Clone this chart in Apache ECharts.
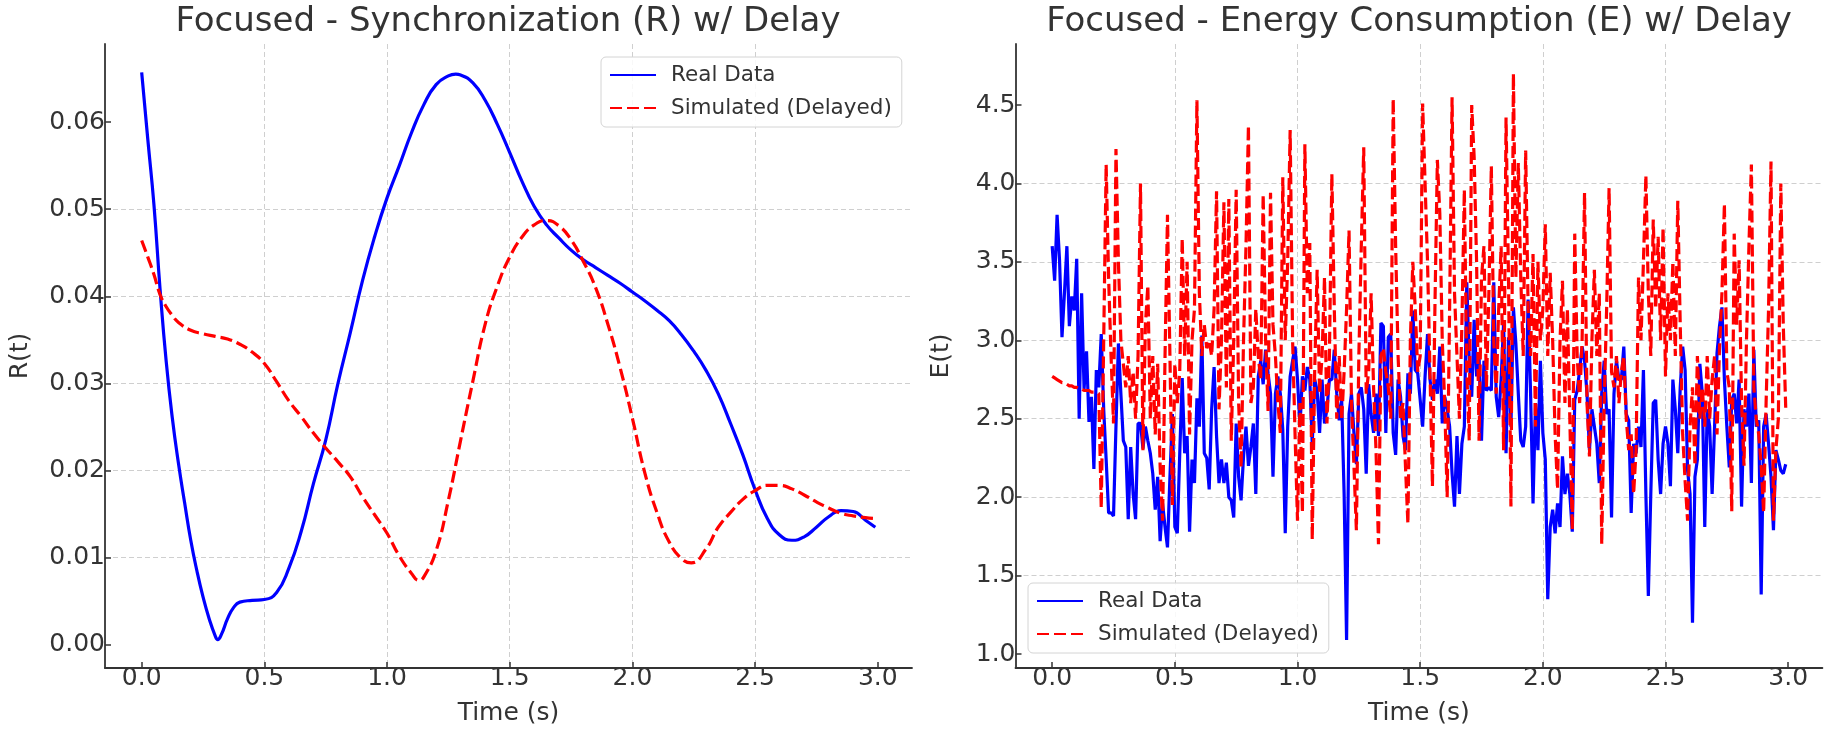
<!DOCTYPE html>
<html>
<head>
<meta charset="utf-8">
<title>Focused - Synchronization and Energy w/ Delay</title>
<script src="https://cdn.jsdelivr.net/npm/echarts@6/dist/echarts.min.js"></script>
<style>
  html, body { margin: 0; padding: 0; background: #fff; }
  #chart { width: 1831px; height: 740px; }
</style>
</head>
<body>
<div id="chart"></div>
<script>
'use strict';

// ---- left panel: synchronization R(t) ----
const syncRealTime = [0, 0.025, 0.05, 0.075, 0.1, 0.125, 0.15, 0.175, 0.2, 0.225, 0.25, 0.275, 0.3, 0.31, 0.325, 0.35, 0.375, 0.4, 0.45, 0.5,
  0.55, 0.6, 0.65, 0.7, 0.75, 0.8, 0.85, 0.9, 0.95, 1.0, 1.05, 1.1, 1.15, 1.2, 1.25, 1.28, 1.3, 1.35, 1.4, 1.45,
  1.5, 1.55, 1.6, 1.65, 1.7, 1.75, 1.8, 1.85, 1.9, 1.95, 2.0, 2.05, 2.1, 2.15, 2.2, 2.25, 2.3, 2.35, 2.4, 2.45,
  2.5, 2.55, 2.6, 2.65, 2.7, 2.75, 2.8, 2.85, 2.9, 2.95, 2.99];
const syncReal = [0.0657, 0.058, 0.0505, 0.0408, 0.0325, 0.026, 0.0208, 0.0163, 0.012, 0.0085, 0.0055, 0.003, 0.001, 0.0006, 0.0012, 0.003, 0.0043, 0.0049, 0.0051, 0.0052,
  0.006, 0.0088, 0.013, 0.0185, 0.0235, 0.03, 0.0358, 0.0418, 0.0469, 0.0513, 0.055, 0.0588, 0.062, 0.0643, 0.0653, 0.0655, 0.0654, 0.0645, 0.0625, 0.0597,
  0.0565, 0.0532, 0.0503, 0.0482, 0.0467, 0.0453, 0.0442, 0.0433, 0.0424, 0.0415, 0.0405, 0.0395, 0.0384, 0.0372, 0.0356, 0.0337, 0.0315, 0.0288, 0.0254, 0.0218,
  0.0178, 0.0145, 0.0126, 0.012, 0.0124, 0.0135, 0.0147, 0.0154, 0.0153, 0.0143, 0.0135];

const syncSimTime = [0, 0.025, 0.05, 0.075, 0.1, 0.125, 0.15, 0.2, 0.25, 0.3, 0.35, 0.4, 0.45, 0.5, 0.55, 0.6, 0.65, 0.7, 0.75, 0.8,
  0.85, 0.9, 0.95, 1.0, 1.05, 1.1, 1.13, 1.15, 1.2, 1.25, 1.3, 1.35, 1.4, 1.45, 1.5, 1.55, 1.6, 1.65, 1.7, 1.75,
  1.8, 1.85, 1.9, 1.95, 2.0, 2.05, 2.1, 2.15, 2.2, 2.24, 2.3, 2.35, 2.4, 2.45, 2.5, 2.55, 2.6, 2.65, 2.7, 2.75,
  2.8, 2.85, 2.9, 2.95, 2.99];
const syncSim = [0.0464, 0.0445, 0.0425, 0.0402, 0.0388, 0.0378, 0.037, 0.0361, 0.0357, 0.0354, 0.0351, 0.0345, 0.0336, 0.0323, 0.0302, 0.028, 0.0262, 0.0243, 0.0226, 0.021,
  0.0193, 0.017, 0.0149, 0.0128, 0.0102, 0.0082, 0.0074, 0.0078, 0.0108, 0.0166, 0.0235, 0.0303, 0.0368, 0.0412, 0.0445, 0.0468, 0.0482, 0.0487, 0.0481, 0.0465,
  0.044, 0.041, 0.0368, 0.0318, 0.026, 0.0198, 0.0152, 0.0118, 0.0099, 0.0094, 0.011, 0.0135, 0.0152, 0.0167, 0.0177, 0.0183, 0.0183, 0.0179, 0.0172, 0.0164,
  0.0157, 0.0151, 0.0148, 0.0146, 0.0145];

// ---- right panel: energy E(t), one sample every 0.01 s ----
const energyStep = 0.01;
const energyReal = [
  3.60, 3.38, 3.80, 3.51, 3.02, 3.30, 3.60, 3.09, 3.28, 3.19,
  3.52, 2.50, 3.30, 2.69, 2.93, 2.48, 2.64, 2.18, 2.81, 2.70,
  3.04, 2.56, 2.24, 1.90, 1.90, 1.88, 2.45, 2.98, 2.66, 2.36,
  2.32, 1.86, 2.32, 2.02, 1.86, 2.47,
  2.47, 2.31, 2.45, 2.36, 2.28, 2.15, 1.92, 2.13, 1.72, 1.96,
  1.81, 1.68, 2.13, 2.53, 1.81, 1.77, 2.28, 2.76, 2.28, 2.39,
  1.78, 2.24, 2.09, 2.63, 2.45, 3.03, 2.28, 2.25, 2.05, 2.56,
  2.83, 2.39, 2.09, 2.24, 2.09, 2.22, 2.00, 1.98, 1.87, 2.47,
  2.13, 1.98, 2.26, 2.45, 2.20, 2.32, 2.47, 2.02, 2.77, 2.87,
  2.72,
  2.94, 2.79, 2.66, 2.13, 2.66, 2.77, 2.66, 2.43, 1.77, 2.45,
  2.77, 2.87, 2.96, 2.75, 2.45, 2.77, 2.68, 2.83, 2.75, 2.34,
  2.75, 2.68, 2.41, 2.75, 2.47, 2.56, 2.75, 2.75, 2.94, 2.66,
  2.49, 2.62, 2.02, 1.09, 2.53, 2.66, 2.41, 2.21, 2.66, 2.70,
  2.56, 2.15, 2.72, 2.53, 2.41, 2.66, 2.39, 3.11, 3.09, 2.41,
  3.02,
  3.04, 2.41, 2.27, 2.75, 2.64, 2.39, 2.30, 2.79, 2.66, 3.19,
  2.81, 2.79, 2.62, 2.45, 2.77, 3.04, 2.75, 2.62, 2.75, 2.66,
  2.96, 2.47, 2.64, 2.56, 2.45, 2.15, 1.94, 2.39, 2.02, 2.34,
  2.45, 3.37, 2.87, 2.64, 3.13, 2.77, 2.90, 2.36, 2.87, 2.68,
  2.70, 2.68, 3.37, 2.64, 2.51, 2.75, 3.11, 2.28, 3.02, 2.45,
  3.21,
  2.98, 2.66, 2.36, 2.32, 2.45, 3.26, 2.66, 1.96, 2.60, 2.30,
  2.87, 2.41, 2.24, 1.35, 1.81, 1.92, 1.77, 1.96, 1.81, 2.26,
  2.02, 2.15, 2.02, 1.78, 2.62, 2.68, 2.81, 2.96, 2.87, 2.66,
  2.30, 2.56, 2.45, 2.34, 2.09, 2.66, 2.87, 2.53, 2.56, 1.87,
  2.66, 2.87, 2.75, 2.75, 2.96, 2.53, 2.49, 1.90, 2.34, 2.28,
  2.45, 2.32, 2.81, 2.02, 1.37,
  2.02, 2.60, 2.62, 2.24, 2.02, 2.34, 2.45, 2.34, 2.07, 2.75,
  2.56, 2.28, 2.70, 2.96, 2.81, 2.17, 2.02, 1.20, 2.13, 2.24,
  2.85, 2.66, 1.81, 2.56, 2.45, 2.02, 2.45, 2.92, 3.09, 3.21,
  2.75, 2.45, 2.19, 2.62, 2.66, 2.47, 2.75, 1.94, 2.56, 2.45,
  2.66, 2.09, 2.94, 2.45, 2.49, 1.38, 2.45, 2.53, 2.34, 2.13,
  1.79, 2.30, 2.24, 2.17, 2.15, 2.21
];
const energySim = [
  2.77, 2.76, 2.75, 2.74, 2.73, 2.73, 2.72, 2.71, 2.71, 2.70,
  2.70, 2.69, 2.69, 2.68, 2.68, 2.68, 2.67, 2.67, 2.67, 2.66,
  1.93, 3.00, 4.12, 3.40, 2.90, 2.47, 4.22, 3.50, 3.00, 2.85,
  2.70, 2.90, 2.60, 2.80, 2.50, 2.90,
  4.00, 2.30, 3.10, 3.35, 2.50, 2.90, 2.40, 2.85, 2.20, 1.85,
  2.90, 3.80, 2.90, 1.95, 2.85, 2.60, 2.80, 3.65, 2.90, 3.50,
  2.40, 3.00, 3.20, 4.53, 3.30, 2.90, 3.10, 2.95, 3.00, 2.90,
  3.20, 3.95, 2.56, 3.00, 3.88, 2.70, 3.90, 2.36, 3.00, 3.96,
  2.60, 2.19, 3.00, 3.60, 4.37, 2.60, 2.70, 3.20, 2.90, 2.75,
  3.93,
  3.00, 2.55, 3.94, 3.10, 2.90, 2.60, 2.41, 4.04, 3.00, 3.50,
  4.34, 3.00, 2.40, 1.85, 2.60, 1.90, 4.25, 3.30, 3.62, 1.73,
  2.80, 3.45, 2.66, 2.90, 3.40, 2.47, 2.90, 4.06, 3.20, 2.50,
  2.90, 2.49, 2.80, 3.20, 3.70, 2.60, 2.20, 1.79, 2.90, 3.60,
  4.23, 2.66, 2.80, 3.30, 2.70, 2.30, 1.70, 2.90, 2.95, 2.80,
  2.70,
  2.50, 4.54, 3.60, 2.90, 2.50, 2.60, 2.20, 1.83, 3.00, 3.50,
  3.20, 2.80, 2.90, 4.51, 4.00, 3.50, 2.80, 2.07, 3.20, 4.15,
  3.81, 3.00, 2.60, 2.00, 3.20, 4.55, 3.30, 2.90, 2.50, 3.10,
  3.96, 2.80, 2.36, 4.50, 4.17, 3.50, 2.36, 3.40, 3.60, 2.70,
  3.30, 4.11, 3.00, 2.66, 3.20, 3.60, 2.30, 4.42, 3.40, 1.94,
  4.70,
  3.40, 4.13, 3.40, 2.90, 4.21, 3.20, 2.90, 3.55, 2.45, 3.50,
  3.00, 3.20, 3.74, 2.90, 3.43, 3.00, 2.40, 2.05, 3.00, 3.38,
  2.60, 3.20, 2.50, 1.79, 3.68, 2.90, 2.60, 3.00, 3.94, 2.60,
  2.26, 3.00, 3.45, 2.90, 3.30, 1.70, 2.60, 3.20, 3.97, 2.80,
  2.70, 2.90, 2.60, 2.80, 2.90, 2.50, 2.30, 2.40, 2.02, 2.30,
  3.40, 3.00, 3.50, 4.05,
  3.30, 2.90, 3.77, 3.20, 3.66, 3.00, 3.72, 2.77, 3.30, 3.00,
  3.50, 2.90, 3.89, 3.10, 2.40, 2.10, 1.85, 2.45, 2.70, 2.20,
  2.90, 2.50, 2.70, 2.45, 2.90, 2.50, 2.75, 2.90, 2.40, 2.95,
  3.30, 3.87, 2.80, 2.70, 1.91, 3.68, 3.10, 3.51, 2.60, 2.20,
  3.00, 3.60, 4.12, 2.70, 2.50, 2.40, 2.20, 1.90, 2.60, 3.20,
  4.14, 1.85, 2.30, 2.50, 4.00, 3.10, 2.57
];

// ---- tick labels ----
const timeTicks = [0, 0.5, 1.0, 1.5, 2.0, 2.5, 3.0];
const syncTicks = [0, 0.01, 0.02, 0.03, 0.04, 0.05, 0.06];
const energyTicks = [1.0, 1.5, 2.0, 2.5, 3.0, 3.5, 4.0, 4.5];

const names = ['Real Data', 'Simulated (Delayed)'];
const font = 'DejaVu Sans';
const ink = '#333333';

function pairs(xs, ys) {
    return ys.map(function (y, i) { return [xs[i], y]; });
}
function stepped(ys) {
    return ys.map(function (y, i) { return [Math.round(i * energyStep * 100) / 100, y]; });
}

function xAxisFor(gridIndex) {
    return {
        type: 'value',
        gridIndex: gridIndex,
        min: -0.1495,
        max: 3.1395,
        name: 'Time (s)',
        nameLocation: 'middle',
        nameGap: 33,
        nameTextStyle: { fontSize: 25, color: ink, fontFamily: font },
        axisLine: { show: true, onZero: false, lineStyle: { color: ink, width: 1.8 } },
        axisTick: { show: true, inside: true, length: 6, customValues: timeTicks, lineStyle: { color: ink, width: 1.5 } },
        axisLabel: {
            customValues: timeTicks, fontSize: 25, color: ink, fontFamily: font, margin: -2,
            formatter: function (v) { return v.toFixed(1); }
        },
        splitLine: { show: true, showMinLine: false, showMaxLine: false, lineStyle: { color: '#cfcfcf', width: 1, type: [5, 3] } }
    };
}

function yAxisFor(gridIndex, label, min, max, ticks, digits, gap) {
    return {
        type: 'value',
        gridIndex: gridIndex,
        min: min,
        max: max,
        name: label,
        nameLocation: 'middle',
        nameGap: gap,
        nameTextStyle: { fontSize: 25, color: ink, fontFamily: font },
        axisLine: { show: true, onZero: false, lineStyle: { color: ink, width: 1.8 } },
        axisTick: { show: true, inside: true, length: 6, customValues: ticks, lineStyle: { color: ink, width: 1.5 } },
        axisLabel: {
            customValues: ticks, fontSize: 25, color: ink, fontFamily: font, margin: 0,
            formatter: function (v) { return v.toFixed(digits); }
        },
        splitLine: { show: true, showMinLine: false, showMaxLine: false, lineStyle: { color: '#cfcfcf', width: 1, type: [5, 3] } }
    };
}

function legendAt(left, top) {
    return {
        data: names,
        orient: 'vertical',
        left: left,
        top: top,
        itemWidth: 46,
        itemHeight: 14,
        itemGap: 11,
        padding: [7, 10, 8, 8],
        backgroundColor: 'rgba(255,255,255,0.85)',
        borderColor: '#d4d4d4',
        borderWidth: 1,
        borderRadius: 5,
        itemStyle: { opacity: 0 },
        textStyle: { fontSize: 21.5, color: ink, fontFamily: font, padding: [0, 0, 0, 10] }
    };
}

const realStyle = { color: '#0000ff', width: 3.2 };
const simStyle = { color: '#ff0000', width: 3.2, type: [12, 5] };

const option = {
    animation: false,
    backgroundColor: '#ffffff',
    textStyle: { fontFamily: font },
    title: [
        { text: 'Focused - Synchronization (R) w/ Delay', left: 508, top: 5, textAlign: 'center', padding: 0,
          textStyle: { fontSize: 34, fontWeight: 'normal', color: ink, fontFamily: font } },
        { text: 'Focused - Energy Consumption (E) w/ Delay', left: 1419, top: 5, textAlign: 'center', padding: 0,
          textStyle: { fontSize: 34, fontWeight: 'normal', color: ink, fontFamily: font } }
    ],
    legend: [legendAt(601, 57), legendAt(1028, 583)],
    grid: [
        { left: 105, right: 919, top: 44, bottom: 72 },
        { left: 1015.5, right: 8.6, top: 44, bottom: 72 }
    ],
    xAxis: [xAxisFor(0), xAxisFor(1)],
    yAxis: [
        yAxisFor(0, 'R(t)', -0.00266, 0.06896, syncTicks, 2, 72),
        yAxisFor(1, 'E(t)', 0.911, 4.889, energyTicks, 1, 62)
    ],
    series: [
        { name: names[0], type: 'line', xAxisIndex: 0, yAxisIndex: 0, data: pairs(syncRealTime, syncReal),
          showSymbol: false, symbol: 'none', smooth: true, lineStyle: realStyle, itemStyle: { color: '#0000ff' } },
        { name: names[1], type: 'line', xAxisIndex: 0, yAxisIndex: 0, data: pairs(syncSimTime, syncSim),
          showSymbol: false, symbol: 'none', smooth: true, lineStyle: simStyle, itemStyle: { color: '#ff0000' } },
        { name: names[0], type: 'line', xAxisIndex: 1, yAxisIndex: 1, data: stepped(energyReal),
          showSymbol: false, symbol: 'none', lineStyle: realStyle, itemStyle: { color: '#0000ff' } },
        { name: names[1], type: 'line', xAxisIndex: 1, yAxisIndex: 1, data: stepped(energySim),
          showSymbol: false, symbol: 'none', lineStyle: simStyle, itemStyle: { color: '#ff0000' } }
    ]
};

const chartDom = document.getElementById('chart');
const myChart = echarts.init(chartDom);
myChart.setOption(option);
window.addEventListener('resize', function () {
    myChart.resize();
});
</script>
</body>
</html>
